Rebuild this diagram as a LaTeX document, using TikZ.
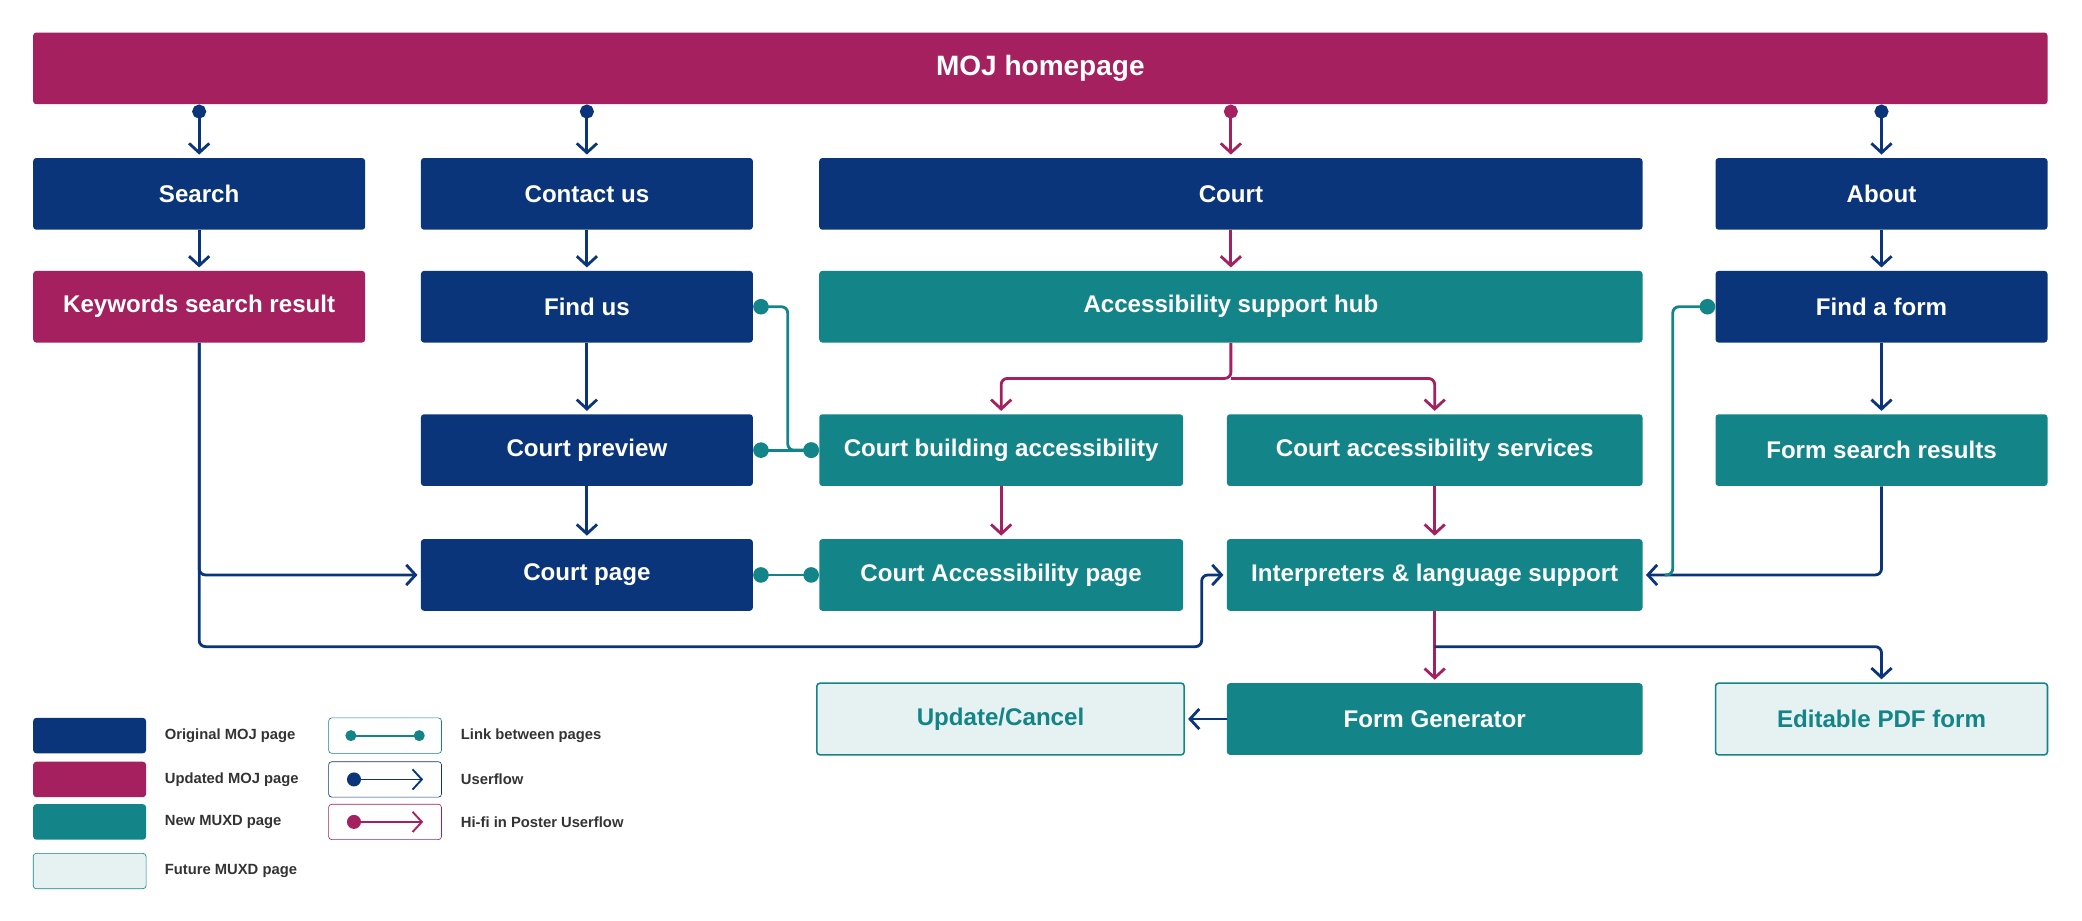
\documentclass[tikz,border=0pt]{standalone}
\usepackage{fontspec}
\setmainfont{Liberation Sans}
\usetikzlibrary{arrows.meta}
\definecolor{mojnavy}{HTML}{0A357A}
\definecolor{mojpink}{HTML}{A4205E}
\definecolor{muxdteal}{HTML}{138488}
\definecolor{futurefill}{HTML}{E6F2F2}
\tikzset{
  page/.style={rectangle, rounded corners=2pt, inner sep=0pt, minimum height=1.62cm, minimum width=7.5cm, text=white, font=\fontsize{15.5pt}{17pt}\bfseries},
  orig/.style={page, fill=mojnavy},
  upd/.style={page, fill=mojpink},
  new/.style={page, fill=muxdteal},
  future/.style={page, fill=futurefill, draw=muxdteal, line width=1pt, text=muxdteal},
  flow/.style={draw=mojnavy, line width=1.8pt, rounded corners=4pt, -{Straight Barb[length=6pt,width=13pt]}, shorten >=2pt},
  hifi/.style={flow, draw=mojpink},
  dotflow/.style={flow, {Circle[length=9pt]}-{Straight Barb[length=6pt,width=13pt]}},
  dothifi/.style={dotflow, draw=mojpink},
  link/.style={draw=muxdteal, line width=1.8pt, rounded corners=4pt, {Circle[length=10pt]}-{Circle[length=10pt]}},
  key/.style={rectangle, rounded corners=2pt, minimum width=2.55cm, minimum height=0.8cm},
  keytext/.style={anchor=west, font=\fontsize{9.5pt}{10pt}\bfseries, text=black!80}
}
\begin{document}
\begin{tikzpicture}[x=0.03cm, y=-0.03cm]
\useasboundingbox (0,0) rectangle (1568,693);
%top
\node[upd, minimum width=45.51cm, font=\fontsize{18pt}{20pt}\bfseries] (home) at (783.5,51.5) {MOJ homepage};
%first row
\node[orig] (search) at (150,146) {Search};
\node[orig] (contact) at (442,146) {Contact us};
\node[orig, minimum width=18.6cm] (court) at (927,146) {Court};
\node[orig] (about) at (1417,146) {About};
%second row
\node[upd] (keywords) at (150,231) {Keywords search result};
\node[orig] (findus) at (442,231) {Find us};
\node[new, minimum width=18.6cm] (hub) at (927,231) {Accessibility support hub};
\node[orig] (findform) at (1417,231) {Find a form};
%third row
\node[orig] (preview) at (442,339) {Court preview};
\node[new, minimum width=8.22cm] (building) at (754,339) {Court building accessibility};
\node[new, minimum width=9.39cm] (services) at (1080.5,339) {Court accessibility services};
\node[new] (formres) at (1417,339) {Form search results};
%fourth row
\node[orig] (courtpage) at (442,433) {Court page};
\node[new, minimum width=8.22cm] (accpage) at (754,433) {Court Accessibility page};
\node[new, minimum width=9.39cm] (interp) at (1080.5,433) {Interpreters \& language support};
%fifth row
\node[future, minimum width=8.3cm] (update) at (753.5,541.5) {Update/Cancel};
\node[new, minimum width=9.39cm] (formgen) at (1080.5,541.5) {Form Generator};
\node[future] (pdf) at (1417,541.5) {Editable PDF form};
%helper points
\coordinate (split) at (927,285);
\coordinate (lowleft) at (150,487);
\coordinate (bend) at (905,487);
\coordinate (lowright) at (1080.5,487);

%arrows from homepage
\draw[dotflow] (home.south -| search) -- (search);
\draw[dotflow] (home.south -| contact) -- (contact);
\draw[dothifi] (home.south -| court) -- (court);
\draw[dotflow] (home.south -| about) -- (about);
%columns
\draw[flow] (search) -- (keywords);
\draw[flow] (contact) -- (findus);
\draw[hifi] (court) -- (hub);
\draw[flow] (about) -- (findform);
\draw[flow] (findus) -- (preview);
\draw[flow] (preview) -- (courtpage);
\draw[flow] (findform) -- (formres);
\draw[hifi] (hub.south) -- (split) -| (building);
\draw[hifi] (split) -| (services);
\draw[hifi] (building) -- (accpage);
\draw[hifi] (services) -- (interp);
\draw[hifi] (interp) -- (formgen);
\draw[flow] (lowright) -| (pdf);
\draw[flow] (formgen) -- (update);
\draw[flow] (formres.south) |- (interp.east);
\draw[flow] (keywords.south) |- (courtpage.west);
\draw[flow] (keywords.south) -- (lowleft) -- (bend) |- (interp.west);
%links
\draw[link] (findus.east) -- ++(26,0) |- (building.west);
\draw[link] (preview.east) -- (building.west);
\draw[link] (courtpage.east) -- (accpage.west);
\draw[link, {Circle[length=10pt]}-] (findform.west) -- ++(-32,0) |- ([xshift=14]interp.east);

%legend
\node[key, fill=mojnavy] (korig) at (67.5,554) {};
\node[keytext] at (120,554) {Original MOJ page};
\node[key, fill=mojpink] (kupd) at (67.5,587) {};
\node[keytext] at (120,587) {Updated MOJ page};
\node[key, fill=muxdteal] (knew) at (67.5,619) {};
\node[keytext] at (120,619) {New MUXD page};
\node[key, fill=futurefill, draw=muxdteal] (kfut) at (67.5,656) {};
\node[keytext] at (120,656) {Future MUXD page};
\node[key, draw=muxdteal] (klink) at (290,554) {};
\node[keytext] at (343,554) {Link between pages};
\node[key, draw=mojnavy] (kflow) at (290,587) {};
\node[keytext] at (343,587) {Userflow};
\node[key, draw=mojpink] (khifi) at (290,619) {};
\node[keytext] at (343,619) {Hi-fi in Poster Userflow};
\draw[link, line width=1.2pt, {Circle[length=7pt]}-{Circle[length=7pt]}] ([xshift=11]klink.west) -- ([xshift=-11]klink.east);
\draw[dotflow, line width=1.2pt, shorten >=0pt] ([xshift=12]kflow.west) -- ([xshift=-12]kflow.east);
\draw[dothifi, line width=1.2pt, shorten >=0pt] ([xshift=12]khifi.west) -- ([xshift=-12]khifi.east);
\end{tikzpicture}
\end{document}
